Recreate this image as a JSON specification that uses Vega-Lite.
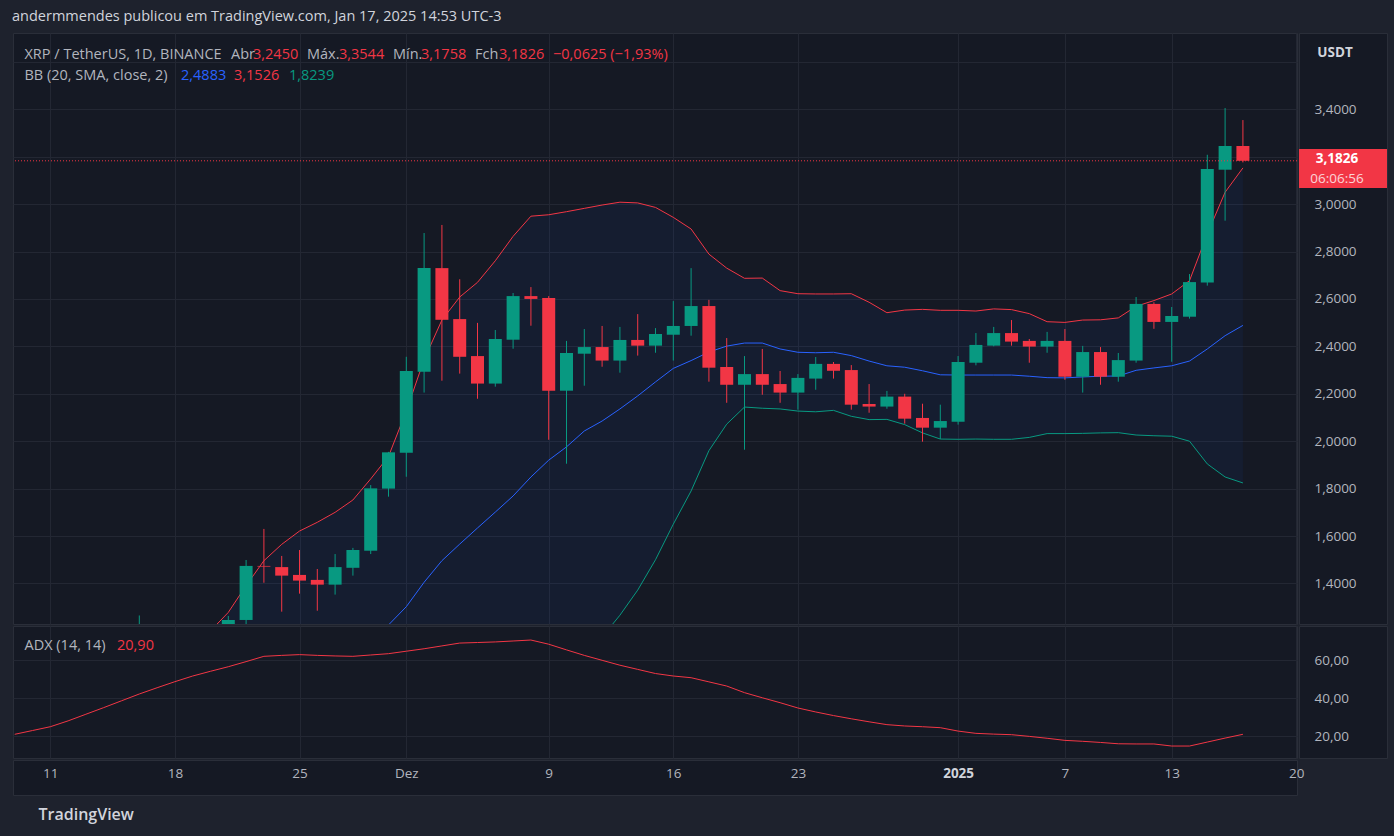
{
  "$schema": "https://vega.github.io/schema/vega-lite/v6.json",
  "background": "#1e222d",
  "padding": {"left": 12, "top": 9, "right": 10, "bottom": 20},
  "title": {"text": "andermmendes publicou em TradingView.com, Jan 17, 2025 14:53 UTC-3", "anchor": "start", "color": "#d1d4dc", "font": "Open Sans", "fontSize": 14.5, "fontWeight": "normal", "offset": 8},
  "spacing": 0,
  "config": {
    "view": {"fill": "#151924", "stroke": "#2a2e39"},
    "axis": {"gridColor": "#232733", "labelFont": "Open Sans", "labelFontSize": 13.5, "labelColor": "#b2b5be", "tickSize": 0},
    "text": {"font": "Open Sans", "fontSize": 14.5},
    "concat": {"spacing": 0}
  },
  "datasets": {
    "xrp": [
      {"date": "2024-11-09", "adx": 20.9},
      {"date": "2024-11-10", "o": 0.556, "h": 0.600, "l": 0.550, "c": 0.592, "up": 0.63, "mid": 0.53, "lo": 0.43, "adx": 22.9},
      {"date": "2024-11-11", "o": 0.592, "h": 0.660, "l": 0.575, "c": 0.645, "up": 0.67, "mid": 0.535, "lo": 0.40, "adx": 24.9},
      {"date": "2024-11-12", "o": 0.645, "h": 0.790, "l": 0.630, "c": 0.700, "up": 0.72, "mid": 0.545, "lo": 0.37, "adx": 28.0},
      {"date": "2024-11-13", "o": 0.700, "h": 0.740, "l": 0.650, "c": 0.720, "up": 0.77, "mid": 0.555, "lo": 0.34, "adx": 31.5},
      {"date": "2024-11-14", "o": 0.720, "h": 0.820, "l": 0.700, "c": 0.800, "up": 0.83, "mid": 0.57, "lo": 0.31, "adx": 35.0},
      {"date": "2024-11-15", "o": 0.800, "h": 0.920, "l": 0.780, "c": 0.900, "up": 0.91, "mid": 0.59, "lo": 0.27, "adx": 38.6},
      {"date": "2024-11-16", "o": 0.900, "h": 1.265, "l": 0.890, "c": 1.120, "up": 1.03, "mid": 0.625, "lo": 0.22, "adx": 42.2},
      {"date": "2024-11-17", "o": 1.120, "h": 1.180, "l": 1.000, "c": 1.070, "up": 1.10, "mid": 0.655, "lo": 0.21, "adx": 45.5},
      {"date": "2024-11-18", "o": 1.070, "h": 1.160, "l": 1.030, "c": 1.120, "up": 1.15, "mid": 0.69, "lo": 0.23, "adx": 48.7},
      {"date": "2024-11-19", "o": 1.120, "h": 1.150, "l": 1.050, "c": 1.080, "up": 1.18, "mid": 0.72, "lo": 0.26, "adx": 51.7},
      {"date": "2024-11-20", "o": 1.080, "h": 1.130, "l": 1.070, "c": 1.100, "up": 1.20, "mid": 0.75, "lo": 0.30, "adx": 54.2},
      {"date": "2024-11-21", "o": 1.100, "h": 1.263, "l": 1.080, "c": 1.246, "up": 1.278, "mid": 0.79, "lo": 0.30, "adx": 56.6},
      {"date": "2024-11-22", "o": 1.246, "h": 1.499, "l": 1.200, "c": 1.474, "up": 1.391, "mid": 0.84, "lo": 0.29, "adx": 59.3},
      {"date": "2024-11-23", "o": 1.474, "h": 1.630, "l": 1.403, "c": 1.471, "up": 1.496, "mid": 0.89, "lo": 0.28, "adx": 62.1},
      {"date": "2024-11-24", "o": 1.469, "h": 1.516, "l": 1.281, "c": 1.433, "up": 1.565, "mid": 0.94, "lo": 0.31, "adx": 62.6},
      {"date": "2024-11-25", "o": 1.436, "h": 1.541, "l": 1.357, "c": 1.412, "up": 1.621, "mid": 0.99, "lo": 0.36, "adx": 63.0},
      {"date": "2024-11-26", "o": 1.415, "h": 1.461, "l": 1.285, "c": 1.395, "up": 1.658, "mid": 1.03, "lo": 0.40, "adx": 62.6},
      {"date": "2024-11-27", "o": 1.395, "h": 1.524, "l": 1.353, "c": 1.469, "up": 1.700, "mid": 1.07, "lo": 0.44, "adx": 62.3},
      {"date": "2024-11-28", "o": 1.466, "h": 1.550, "l": 1.433, "c": 1.541, "up": 1.752, "mid": 1.11, "lo": 0.47, "adx": 62.1},
      {"date": "2024-11-29", "o": 1.538, "h": 1.815, "l": 1.524, "c": 1.801, "up": 1.841, "mid": 1.165, "lo": 0.49, "adx": 62.8},
      {"date": "2024-11-30", "o": 1.800, "h": 1.955, "l": 1.766, "c": 1.953, "up": 1.936, "mid": 1.225, "lo": 0.51, "adx": 63.5},
      {"date": "2024-12-01", "o": 1.951, "h": 2.356, "l": 1.850, "c": 2.296, "up": 2.127, "mid": 1.302, "lo": 0.48, "adx": 64.8},
      {"date": "2024-12-02", "o": 2.293, "h": 2.878, "l": 2.205, "c": 2.730, "up": 2.344, "mid": 1.405, "lo": 0.47, "adx": 66.1},
      {"date": "2024-12-03", "o": 2.730, "h": 2.912, "l": 2.255, "c": 2.512, "up": 2.511, "mid": 1.496, "lo": 0.48, "adx": 67.6},
      {"date": "2024-12-04", "o": 2.515, "h": 2.683, "l": 2.285, "c": 2.356, "up": 2.608, "mid": 1.566, "lo": 0.52, "adx": 69.1},
      {"date": "2024-12-05", "o": 2.359, "h": 2.499, "l": 2.179, "c": 2.243, "up": 2.670, "mid": 1.634, "lo": 0.60, "adx": 69.4},
      {"date": "2024-12-06", "o": 2.243, "h": 2.469, "l": 2.230, "c": 2.431, "up": 2.761, "mid": 1.701, "lo": 0.64, "adx": 69.7},
      {"date": "2024-12-07", "o": 2.428, "h": 2.625, "l": 2.390, "c": 2.612, "up": 2.864, "mid": 1.769, "lo": 0.67, "adx": 70.2},
      {"date": "2024-12-08", "o": 2.612, "h": 2.650, "l": 2.487, "c": 2.600, "up": 2.949, "mid": 1.849, "lo": 0.75, "adx": 70.7},
      {"date": "2024-12-09", "o": 2.604, "h": 2.612, "l": 2.006, "c": 2.213, "up": 2.955, "mid": 1.920, "lo": 0.885, "adx": 68.5},
      {"date": "2024-12-10", "o": 2.213, "h": 2.423, "l": 1.905, "c": 2.372, "up": 2.968, "mid": 1.976, "lo": 0.984, "adx": 65.5},
      {"date": "2024-12-11", "o": 2.369, "h": 2.473, "l": 2.234, "c": 2.397, "up": 2.982, "mid": 2.043, "lo": 1.104, "adx": 62.6},
      {"date": "2024-12-12", "o": 2.397, "h": 2.486, "l": 2.314, "c": 2.340, "up": 2.996, "mid": 2.085, "lo": 1.174, "adx": 60.0},
      {"date": "2024-12-13", "o": 2.340, "h": 2.482, "l": 2.289, "c": 2.427, "up": 3.008, "mid": 2.136, "lo": 1.266, "adx": 57.4},
      {"date": "2024-12-14", "o": 2.427, "h": 2.536, "l": 2.361, "c": 2.403, "up": 3.005, "mid": 2.191, "lo": 1.372, "adx": 55.2},
      {"date": "2024-12-15", "o": 2.403, "h": 2.477, "l": 2.373, "c": 2.452, "up": 2.986, "mid": 2.250, "lo": 1.50, "adx": 53.0},
      {"date": "2024-12-16", "o": 2.449, "h": 2.591, "l": 2.340, "c": 2.486, "up": 2.944, "mid": 2.307, "lo": 1.65, "adx": 51.7},
      {"date": "2024-12-17", "o": 2.486, "h": 2.730, "l": 2.445, "c": 2.570, "up": 2.895, "mid": 2.340, "lo": 1.79, "adx": 50.8},
      {"date": "2024-12-18", "o": 2.570, "h": 2.596, "l": 2.251, "c": 2.310, "up": 2.789, "mid": 2.376, "lo": 1.960, "adx": 48.6},
      {"date": "2024-12-19", "o": 2.313, "h": 2.435, "l": 2.162, "c": 2.238, "up": 2.730, "mid": 2.401, "lo": 2.072, "adx": 46.4},
      {"date": "2024-12-20", "o": 2.238, "h": 2.359, "l": 1.964, "c": 2.283, "up": 2.687, "mid": 2.414, "lo": 2.144, "adx": 42.9},
      {"date": "2024-12-21", "o": 2.283, "h": 2.389, "l": 2.196, "c": 2.238, "up": 2.688, "mid": 2.414, "lo": 2.139, "adx": 40.2},
      {"date": "2024-12-22", "o": 2.241, "h": 2.296, "l": 2.162, "c": 2.205, "up": 2.635, "mid": 2.389, "lo": 2.136, "adx": 37.6},
      {"date": "2024-12-23", "o": 2.205, "h": 2.283, "l": 2.133, "c": 2.267, "up": 2.622, "mid": 2.375, "lo": 2.127, "adx": 34.8},
      {"date": "2024-12-24", "o": 2.264, "h": 2.355, "l": 2.217, "c": 2.326, "up": 2.621, "mid": 2.373, "lo": 2.124, "adx": 32.7},
      {"date": "2024-12-25", "o": 2.326, "h": 2.334, "l": 2.264, "c": 2.297, "up": 2.621, "mid": 2.375, "lo": 2.130, "adx": 30.8},
      {"date": "2024-12-26", "o": 2.300, "h": 2.321, "l": 2.133, "c": 2.154, "up": 2.622, "mid": 2.361, "lo": 2.105, "adx": 29.1},
      {"date": "2024-12-27", "o": 2.157, "h": 2.241, "l": 2.120, "c": 2.146, "up": 2.586, "mid": 2.338, "lo": 2.091, "adx": 27.5},
      {"date": "2024-12-28", "o": 2.146, "h": 2.212, "l": 2.137, "c": 2.188, "up": 2.542, "mid": 2.318, "lo": 2.092, "adx": 26.0},
      {"date": "2024-12-29", "o": 2.188, "h": 2.200, "l": 2.074, "c": 2.095, "up": 2.553, "mid": 2.312, "lo": 2.070, "adx": 25.3},
      {"date": "2024-12-30", "o": 2.098, "h": 2.158, "l": 1.998, "c": 2.057, "up": 2.556, "mid": 2.297, "lo": 2.035, "adx": 24.9},
      {"date": "2024-12-31", "o": 2.057, "h": 2.154, "l": 2.009, "c": 2.085, "up": 2.552, "mid": 2.280, "lo": 2.009, "adx": 24.4},
      {"date": "2025-01-01", "o": 2.082, "h": 2.359, "l": 2.070, "c": 2.334, "up": 2.552, "mid": 2.279, "lo": 2.008, "adx": 22.6},
      {"date": "2025-01-02", "o": 2.331, "h": 2.456, "l": 2.320, "c": 2.406, "up": 2.549, "mid": 2.279, "lo": 2.009, "adx": 21.4},
      {"date": "2025-01-03", "o": 2.403, "h": 2.482, "l": 2.400, "c": 2.456, "up": 2.558, "mid": 2.279, "lo": 2.008, "adx": 21.0},
      {"date": "2025-01-04", "o": 2.456, "h": 2.511, "l": 2.403, "c": 2.420, "up": 2.555, "mid": 2.279, "lo": 2.008, "adx": 20.7},
      {"date": "2025-01-05", "o": 2.423, "h": 2.431, "l": 2.331, "c": 2.399, "up": 2.538, "mid": 2.274, "lo": 2.016, "adx": 19.8},
      {"date": "2025-01-06", "o": 2.399, "h": 2.461, "l": 2.373, "c": 2.423, "up": 2.504, "mid": 2.268, "lo": 2.032, "adx": 18.8},
      {"date": "2025-01-07", "o": 2.423, "h": 2.473, "l": 2.259, "c": 2.272, "up": 2.501, "mid": 2.267, "lo": 2.032, "adx": 17.7},
      {"date": "2025-01-08", "o": 2.272, "h": 2.402, "l": 2.205, "c": 2.376, "up": 2.511, "mid": 2.271, "lo": 2.033, "adx": 17.2},
      {"date": "2025-01-09", "o": 2.376, "h": 2.397, "l": 2.238, "c": 2.272, "up": 2.512, "mid": 2.274, "lo": 2.035, "adx": 16.6},
      {"date": "2025-01-10", "o": 2.272, "h": 2.372, "l": 2.251, "c": 2.342, "up": 2.520, "mid": 2.275, "lo": 2.036, "adx": 15.9},
      {"date": "2025-01-11", "o": 2.340, "h": 2.608, "l": 2.331, "c": 2.579, "up": 2.569, "mid": 2.299, "lo": 2.026, "adx": 15.8},
      {"date": "2025-01-12", "o": 2.579, "h": 2.586, "l": 2.474, "c": 2.503, "up": 2.593, "mid": 2.309, "lo": 2.023, "adx": 15.8},
      {"date": "2025-01-13", "o": 2.503, "h": 2.566, "l": 2.335, "c": 2.528, "up": 2.621, "mid": 2.318, "lo": 2.021, "adx": 14.7},
      {"date": "2025-01-14", "o": 2.525, "h": 2.705, "l": 2.517, "c": 2.671, "up": 2.677, "mid": 2.338, "lo": 2.000, "adx": 14.7},
      {"date": "2025-01-15", "o": 2.669, "h": 3.208, "l": 2.656, "c": 3.148, "up": 2.874, "mid": 2.389, "lo": 1.904, "adx": 16.8},
      {"date": "2025-01-16", "o": 3.145, "h": 3.405, "l": 2.930, "c": 3.245, "up": 3.050, "mid": 2.445, "lo": 1.849, "adx": 18.9},
      {"date": "2025-01-17", "o": 3.245, "h": 3.3544, "l": 3.1758, "c": 3.1826, "up": 3.1526, "mid": 2.4883, "lo": 1.8239, "adx": 20.9}
    ]
  },
  "vconcat": [
    {
      "spacing": 0,
      "hconcat": [
        {
          "width": 1284,
          "height": 591,
          "layer": [
            {
              "data": {"name": "xrp"},
              "mark": {"type": "area", "color": "#2962ff", "opacity": 0.06, "clip": true},
              "encoding": {
                "x": {"field": "date", "type": "temporal",
                  "scale": {"type": "utc", "nice": false, "padding": 0, "domain": [{"year": 2024, "month": 11, "date": 8, "hours": 21, "minutes": 42, "utc": true}, {"year": 2025, "month": 1, "date": 20, "hours": 0, "minutes": 56, "utc": true}]},
                  "axis": {"grid": true, "labels": false, "ticks": false, "domain": false, "title": null,
                    "values": [{"year": 2024, "month": 11, "date": 11, "utc": true}, {"year": 2024, "month": 11, "date": 18, "utc": true}, {"year": 2024, "month": 11, "date": 25, "utc": true}, {"year": 2024, "month": 12, "date": 1, "utc": true}, {"year": 2024, "month": 12, "date": 9, "utc": true}, {"year": 2024, "month": 12, "date": 16, "utc": true}, {"year": 2024, "month": 12, "date": 23, "utc": true}, {"year": 2025, "month": 1, "date": 1, "utc": true}, {"year": 2025, "month": 1, "date": 7, "utc": true}, {"year": 2025, "month": 1, "date": 13, "utc": true}, {"year": 2025, "month": 1, "date": 20, "utc": true}]}},
                "y": {"field": "up", "type": "quantitative",
                  "scale": {"domain": [1.229, 3.7216], "zero": false, "nice": false, "padding": 0},
                  "axis": {"orient": "right", "grid": true, "labels": false, "ticks": false, "domain": false, "title": null, "values": [1.4, 1.6, 1.8, 2.0, 2.2, 2.4, 2.6, 2.8, 3.0, 3.2, 3.4, 3.6]}},
                "y2": {"field": "lo"}
              }
            },
            {
              "data": {"name": "xrp"},
              "mark": {"type": "line", "color": "#f23645", "strokeWidth": 1, "clip": true},
              "encoding": {"x": {"field": "date", "type": "temporal"}, "y": {"field": "up", "type": "quantitative"}}
            },
            {
              "data": {"name": "xrp"},
              "mark": {"type": "line", "color": "#2962ff", "strokeWidth": 1, "clip": true},
              "encoding": {"x": {"field": "date", "type": "temporal"}, "y": {"field": "mid", "type": "quantitative"}}
            },
            {
              "data": {"name": "xrp"},
              "mark": {"type": "line", "color": "#089981", "strokeWidth": 1, "clip": true},
              "encoding": {"x": {"field": "date", "type": "temporal"}, "y": {"field": "lo", "type": "quantitative"}}
            },
            {
              "data": {"name": "xrp"},
              "mark": {"type": "rule", "strokeWidth": 1, "clip": true},
              "encoding": {
                "x": {"field": "date", "type": "temporal"},
                "y": {"field": "l", "type": "quantitative"},
                "y2": {"field": "h"},
                "color": {"condition": {"test": "datum.c >= datum.o", "value": "#089981"}, "value": "#f23645"}
              }
            },
            {
              "data": {"name": "xrp"},
              "mark": {"type": "bar", "size": 13, "clip": true},
              "encoding": {
                "x": {"field": "date", "type": "temporal"},
                "y": {"field": "o", "type": "quantitative"},
                "y2": {"field": "c"},
                "color": {"condition": {"test": "datum.c >= datum.o", "value": "#089981"}, "value": "#f23645"}
              }
            },
            {
              "data": {"values": [{}]},
              "mark": {"type": "rule", "color": "#f23645", "strokeWidth": 1, "strokeDash": [1, 2]},
              "encoding": {"y": {"datum": 3.1826, "type": "quantitative"}}
            },
            {
              "data": {"values": [{}]},
              "mark": {"type": "text", "align": "left", "baseline": "middle", "color": "#b2b5be"},
              "encoding": {"x": {"datum": {"year": 2024, "month": 11, "date": 9, "hours": 13, "minutes": 12, "utc": true}, "type": "temporal"}, "y": {"datum": 3.629, "type": "quantitative"}, "text": {"value": "XRP / TetherUS, 1D, BINANCE"}}
            },
            {
              "data": {"values": [{}]},
              "mark": {"type": "text", "align": "left", "baseline": "middle", "color": "#b2b5be"},
              "encoding": {"x": {"datum": {"year": 2024, "month": 11, "date": 21, "hours": 3, "minutes": 39, "utc": true}, "type": "temporal"}, "y": {"datum": 3.629, "type": "quantitative"}, "text": {"value": "Abr"}}
            },
            {
              "data": {"values": [{}]},
              "mark": {"type": "text", "align": "left", "baseline": "middle", "color": "#f23645"},
              "encoding": {"x": {"datum": {"year": 2024, "month": 11, "date": 22, "hours": 9, "minutes": 18, "utc": true}, "type": "temporal"}, "y": {"datum": 3.629, "type": "quantitative"}, "text": {"value": "3,2450"}}
            },
            {
              "data": {"values": [{}]},
              "mark": {"type": "text", "align": "left", "baseline": "middle", "color": "#b2b5be"},
              "encoding": {"x": {"datum": {"year": 2024, "month": 11, "date": 25, "hours": 10, "minutes": 6, "utc": true}, "type": "temporal"}, "y": {"datum": 3.629, "type": "quantitative"}, "text": {"value": "Máx."}}
            },
            {
              "data": {"values": [{}]},
              "mark": {"type": "text", "align": "left", "baseline": "middle", "color": "#f23645"},
              "encoding": {"x": {"datum": {"year": 2024, "month": 11, "date": 27, "hours": 5, "minutes": 15, "utc": true}, "type": "temporal"}, "y": {"datum": 3.629, "type": "quantitative"}, "text": {"value": "3,3544"}}
            },
            {
              "data": {"values": [{}]},
              "mark": {"type": "text", "align": "left", "baseline": "middle", "color": "#b2b5be"},
              "encoding": {"x": {"datum": {"year": 2024, "month": 11, "date": 30, "hours": 6, "minutes": 4, "utc": true}, "type": "temporal"}, "y": {"datum": 3.629, "type": "quantitative"}, "text": {"value": "Mín."}}
            },
            {
              "data": {"values": [{}]},
              "mark": {"type": "text", "align": "left", "baseline": "middle", "color": "#f23645"},
              "encoding": {"x": {"datum": {"year": 2024, "month": 12, "date": 1, "hours": 19, "minutes": 49, "utc": true}, "type": "temporal"}, "y": {"datum": 3.629, "type": "quantitative"}, "text": {"value": "3,1758"}}
            },
            {
              "data": {"values": [{}]},
              "mark": {"type": "text", "align": "left", "baseline": "middle", "color": "#b2b5be"},
              "encoding": {"x": {"datum": {"year": 2024, "month": 12, "date": 4, "hours": 20, "minutes": 38, "utc": true}, "type": "temporal"}, "y": {"datum": 3.629, "type": "quantitative"}, "text": {"value": "Fch"}}
            },
            {
              "data": {"values": [{}]},
              "mark": {"type": "text", "align": "left", "baseline": "middle", "color": "#f23645"},
              "encoding": {"x": {"datum": {"year": 2024, "month": 12, "date": 6, "hours": 5, "minutes": 0, "utc": true}, "type": "temporal"}, "y": {"datum": 3.629, "type": "quantitative"}, "text": {"value": "3,1826"}}
            },
            {
              "data": {"values": [{}]},
              "mark": {"type": "text", "align": "left", "baseline": "middle", "color": "#f23645"},
              "encoding": {"x": {"datum": {"year": 2024, "month": 12, "date": 9, "hours": 5, "minutes": 48, "utc": true}, "type": "temporal"}, "y": {"datum": 3.629, "type": "quantitative"}, "text": {"value": "−0,0625 (−1,93%)"}}
            },
            {
              "data": {"values": [{}]},
              "mark": {"type": "text", "align": "left", "baseline": "middle", "color": "#b2b5be"},
              "encoding": {"x": {"datum": {"year": 2024, "month": 11, "date": 9, "hours": 13, "minutes": 12, "utc": true}, "type": "temporal"}, "y": {"datum": 3.54, "type": "quantitative"}, "text": {"value": "BB (20, SMA, close, 2)"}}
            },
            {
              "data": {"values": [{}]},
              "mark": {"type": "text", "align": "left", "baseline": "middle", "color": "#2962ff"},
              "encoding": {"x": {"datum": {"year": 2024, "month": 11, "date": 18, "hours": 8, "minutes": 14, "utc": true}, "type": "temporal"}, "y": {"datum": 3.54, "type": "quantitative"}, "text": {"value": "2,4883"}}
            },
            {
              "data": {"values": [{}]},
              "mark": {"type": "text", "align": "left", "baseline": "middle", "color": "#f23645"},
              "encoding": {"x": {"datum": {"year": 2024, "month": 11, "date": 21, "hours": 7, "minutes": 41, "utc": true}, "type": "temporal"}, "y": {"datum": 3.54, "type": "quantitative"}, "text": {"value": "3,1526"}}
            },
            {
              "data": {"values": [{}]},
              "mark": {"type": "text", "align": "left", "baseline": "middle", "color": "#089981"},
              "encoding": {"x": {"datum": {"year": 2024, "month": 11, "date": 24, "hours": 9, "minutes": 50, "utc": true}, "type": "temporal"}, "y": {"datum": 3.54, "type": "quantitative"}, "text": {"value": "1,8239"}}
            }
          ]
        },
        {
          "width": 88,
          "height": 591,
          "data": {"values": [{}]},
          "layer": [
            {
              "mark": {"type": "rect", "color": "#f23645"},
              "encoding": {
                "y": {"datum": 3.232, "type": "quantitative",
                  "scale": {"domain": [1.229, 3.7216], "zero": false, "nice": false, "padding": 0},
                  "axis": {"orient": "left", "values": [1.4, 1.6, 1.8, 2.0, 2.2, 2.4, 2.6, 2.8, 3.0, 3.4], "labelExpr": "replace(format(datum.value, '.4f'), '.', ',')", "labelAlign": "left", "labelBaseline": "middle", "labelPadding": -15, "grid": false, "ticks": false, "domain": false, "title": null, "labelFlush": false, "labelOverlap": false}},
                "y2": {"datum": 3.068}
              }
            },
            {
              "mark": {"type": "text", "color": "#ffffff", "fontWeight": "bold", "fontSize": 13.5, "dx": -6, "baseline": "middle"},
              "encoding": {"y": {"datum": 3.19, "type": "quantitative"}, "text": {"value": "3,1826"}}
            },
            {
              "mark": {"type": "text", "color": "#ffffff", "opacity": 0.78, "fontSize": 13.5, "dx": -6, "baseline": "middle"},
              "encoding": {"y": {"datum": 3.106, "type": "quantitative"}, "text": {"value": "06:06:56"}}
            },
            {
              "mark": {"type": "text", "color": "#d1d4dc", "fontWeight": "bold", "fontSize": 13.5, "dx": -8, "baseline": "middle"},
              "encoding": {"y": {"datum": 3.638, "type": "quantitative"}, "text": {"value": "USDT"}}
            }
          ]
        }
      ]
    },
    {
      "spacing": 0,
      "hconcat": [
        {
          "width": 1284,
          "height": 132,
          "layer": [
            {
              "data": {"name": "xrp"},
              "mark": {"type": "line", "color": "#f23645", "strokeWidth": 1, "clip": true},
              "encoding": {
                "x": {"field": "date", "type": "temporal",
                  "scale": {"type": "utc", "nice": false, "padding": 0, "domain": [{"year": 2024, "month": 11, "date": 8, "hours": 21, "minutes": 42, "utc": true}, {"year": 2025, "month": 1, "date": 20, "hours": 0, "minutes": 56, "utc": true}]},
                  "axis": {"grid": true, "labels": false, "ticks": false, "domain": false, "title": null,
                    "values": [{"year": 2024, "month": 11, "date": 11, "utc": true}, {"year": 2024, "month": 11, "date": 18, "utc": true}, {"year": 2024, "month": 11, "date": 25, "utc": true}, {"year": 2024, "month": 12, "date": 1, "utc": true}, {"year": 2024, "month": 12, "date": 9, "utc": true}, {"year": 2024, "month": 12, "date": 16, "utc": true}, {"year": 2024, "month": 12, "date": 23, "utc": true}, {"year": 2025, "month": 1, "date": 1, "utc": true}, {"year": 2025, "month": 1, "date": 7, "utc": true}, {"year": 2025, "month": 1, "date": 13, "utc": true}, {"year": 2025, "month": 1, "date": 20, "utc": true}]}},
                "y": {"field": "adx", "type": "quantitative",
                  "scale": {"domain": [8.38, 78.12], "zero": false, "nice": false},
                  "axis": {"orient": "right", "values": [20, 40, 60], "grid": true, "labels": false, "ticks": false, "domain": false, "title": null}}
              }
            },
            {
              "data": {"values": [{}]},
              "mark": {"type": "text", "align": "left", "baseline": "middle", "color": "#b2b5be"},
              "encoding": {"x": {"datum": {"year": 2024, "month": 11, "date": 9, "hours": 13, "minutes": 12, "utc": true}, "type": "temporal"}, "y": {"datum": 67.56, "type": "quantitative"}, "text": {"value": "ADX (14, 14)"}}
            },
            {
              "data": {"values": [{}]},
              "mark": {"type": "text", "align": "left", "baseline": "middle", "color": "#f23645"},
              "encoding": {"x": {"datum": {"year": 2024, "month": 11, "date": 14, "hours": 17, "minutes": 56, "utc": true}, "type": "temporal"}, "y": {"datum": 67.56, "type": "quantitative"}, "text": {"value": "20,90"}}
            }
          ]
        },
        {
          "width": 88,
          "height": 132,
          "data": {"values": [{}]},
          "mark": {"type": "rule", "opacity": 0},
          "encoding": {
            "y": {"datum": 40, "type": "quantitative",
              "scale": {"domain": [8.38, 78.12], "zero": false, "nice": false},
              "axis": {"orient": "left", "values": [20, 40, 60], "labelExpr": "replace(format(datum.value, '.2f'), '.', ',')", "labelAlign": "left", "labelBaseline": "middle", "labelPadding": -15, "grid": false, "ticks": false, "domain": false, "title": null, "labelFlush": false, "labelOverlap": false}}
          }
        }
      ]
    },
    {
      "spacing": 0,
      "hconcat": [
        {
          "width": 1284,
          "height": 35,
          "data": {"name": "xrp"},
          "mark": {"type": "rule", "opacity": 0},
          "encoding": {
            "x": {"field": "date", "type": "temporal",
              "scale": {"type": "utc", "nice": false, "padding": 0, "domain": [{"year": 2024, "month": 11, "date": 8, "hours": 21, "minutes": 42, "utc": true}, {"year": 2025, "month": 1, "date": 20, "hours": 0, "minutes": 56, "utc": true}]},
              "axis": {
                "orient": "bottom",
                "values": [{"year": 2024, "month": 11, "date": 11, "utc": true}, {"year": 2024, "month": 11, "date": 18, "utc": true}, {"year": 2024, "month": 11, "date": 25, "utc": true}, {"year": 2024, "month": 12, "date": 1, "utc": true}, {"year": 2024, "month": 12, "date": 9, "utc": true}, {"year": 2024, "month": 12, "date": 16, "utc": true}, {"year": 2024, "month": 12, "date": 23, "utc": true}, {"year": 2025, "month": 1, "date": 1, "utc": true}, {"year": 2025, "month": 1, "date": 7, "utc": true}, {"year": 2025, "month": 1, "date": 13, "utc": true}, {"year": 2025, "month": 1, "date": 20, "utc": true}],
                "labelExpr": "utcmonth(datum.value) == 11 && utcdate(datum.value) == 1 ? 'Dez' : (utcmonth(datum.value) == 0 && utcdate(datum.value) == 1 ? '2025' : '' + utcdate(datum.value))",
                "labelFontWeight": {"condition": {"test": "utcmonth(datum.value) == 0 && utcdate(datum.value) == 1", "value": "bold"}, "value": "normal"},
                "labelColor": {"condition": {"test": "utcmonth(datum.value) == 0 && utcdate(datum.value) == 1", "value": "#d1d4dc"}, "value": "#b2b5be"},
                "labelPadding": -22,
                "labelBaseline": "middle",
                "labelFlush": false,
                "labelOverlap": false,
                "labelBound": false,
                "grid": false,
                "ticks": false,
                "domain": false,
                "title": "TradingView",
                "titleX": 25,
                "titleY": 19,
                "titleAlign": "left",
                "titleBaseline": "middle",
                "titleFont": "Open Sans",
                "titleFontSize": 16,
                "titleFontWeight": 600,
                "titleColor": "#d1d4dc"
              }
            }
          }
        },
        {
          "width": 88,
          "height": 35,
          "data": {"values": [{}]},
          "mark": {"type": "rule", "opacity": 0},
          "encoding": {}
        }
      ]
    }
  ]
}
